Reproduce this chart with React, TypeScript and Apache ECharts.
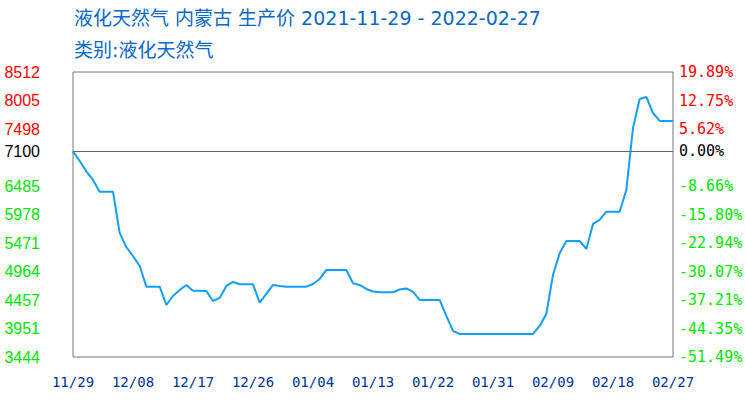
import React, { useEffect, useRef } from "react";
import * as echarts from "echarts";

const TITLE = "液化天然气 内蒙古 生产价 2021-11-29 - 2022-02-27";
const SUBTITLE = "类别:液化天然气";

// Reference price for the percentage axis
const BASE = 7100;

const dates = [
  "11/29", "11/30",
  "12/01", "12/02", "12/03", "12/04", "12/05", "12/06", "12/07", "12/08", "12/09", "12/10",
  "12/11", "12/12", "12/13", "12/14", "12/15", "12/16", "12/17", "12/18", "12/19", "12/20",
  "12/21", "12/22", "12/23", "12/24", "12/25", "12/26", "12/27", "12/28", "12/29", "12/30", "12/31",
  "01/01", "01/02", "01/03", "01/04", "01/05", "01/06", "01/07", "01/08", "01/09", "01/10",
  "01/11", "01/12", "01/13", "01/14", "01/15", "01/16", "01/17", "01/18", "01/19", "01/20",
  "01/21", "01/22", "01/23", "01/24", "01/25", "01/26", "01/27", "01/28", "01/29", "01/30", "01/31",
  "02/01", "02/02", "02/03", "02/04", "02/05", "02/06", "02/07", "02/08", "02/09", "02/10",
  "02/11", "02/12", "02/13", "02/14", "02/15", "02/16", "02/17", "02/18", "02/19", "02/20",
  "02/21", "02/22", "02/23", "02/24", "02/25", "02/26", "02/27",
];

const prices = [
  7100, 6930, 6745, 6592, 6384, 6384, 6384, 5650, 5400, 5240,
  5063, 4695, 4695, 4695, 4369, 4529, 4636, 4725, 4624, 4624,
  4618, 4440, 4494, 4707, 4778, 4737, 4737, 4737, 4410, 4565,
  4725, 4707, 4695, 4695, 4695, 4695, 4743, 4832, 4992, 4992,
  4992, 4992, 4755, 4725, 4654, 4609, 4595, 4595, 4595, 4645,
  4663, 4601, 4458, 4458, 4458, 4458, 4174, 3907, 3854, 3854,
  3854, 3854, 3854, 3854, 3854, 3854, 3854, 3854, 3854, 3854,
  3996, 4209, 4903, 5290, 5507, 5507, 5507, 5365, 5810, 5881,
  6028, 6028, 6028, 6414, 7516, 8032, 8068, 7783, 7641, 7641,
  7641,
];

const tickValues = [3444, 3950.8, 4457.6, 4964.4, 5471.2, 5978, 6484.8, 7100, 7498.4, 8005.2, 8512];
const leftLabels = ["3444", "3951", "4457", "4964", "5471", "5978", "6485", "7100", "7498", "8005", "8512"];
const rightLabels = [
  "-51.49%", "-44.35%", "-37.21%", "-30.07%", "-22.94%", "-15.80%", "-8.66%",
  "0.00%", "5.62%", "12.75%", "19.89%",
];

const tickIndex = (v: number) => {
  let best = 0;
  for (let i = 1; i < tickValues.length; i++) {
    if (Math.abs(tickValues[i] - v) < Math.abs(tickValues[best] - v)) best = i;
  }
  return best;
};

const tickColor = (v: number) => {
  if (Math.abs(v - BASE) < 0.5) return "#000000";
  return v > BASE ? "#ff0000" : "#00e600";
};

export default function App() {
  const ref = useRef<HTMLDivElement>(null);

  useEffect(() => {
    document.body.style.margin = "0";
    if (!ref.current) return;
    const chart = echarts.init(ref.current, null, { renderer: "svg" });
    chart.setOption({
      animation: false,
      backgroundColor: "#ffffff",
      title: [
        {
          text: TITLE,
          left: 74,
          top: 8,
          padding: 0,
          textStyle: {
            color: "#0a68c8",
            fontSize: 19,
            fontWeight: "normal",
            fontFamily: "'DejaVu Sans', 'Noto Sans CJK SC'",
          },
        },
        {
          text: SUBTITLE,
          left: 74,
          top: 40,
          padding: 0,
          textStyle: {
            color: "#0a68c8",
            fontSize: 19,
            fontWeight: "normal",
            fontFamily: "'DejaVu Sans', 'Noto Sans CJK SC'",
          },
        },
      ],
      grid: {
        left: 73,
        right: 73,
        top: 72,
        bottom: 44,
        show: true,
        borderColor: "#777777",
        borderWidth: 1,
        backgroundColor: "transparent",
        outerBoundsMode: "none",
      },
      xAxis: {
        type: "category",
        data: dates,
        boundaryGap: false,
        axisLine: { show: false },
        axisTick: { show: false },
        splitLine: { show: false },
        axisLabel: {
          interval: 8,
          margin: 18,
          color: "#003399",
          fontSize: 14,
          fontFamily: "'DejaVu Sans Mono'",
        },
      },
      yAxis: [
        {
          type: "value",
          min: 3444,
          max: 8512,
          position: "left",
          axisLine: { show: false },
          axisTick: { show: false },
          splitLine: { show: false },
          axisLabel: {
            customValues: tickValues,
            margin: 33,
            fontSize: 16,
            fontFamily: "'Liberation Sans'",
            color: (v: number) => tickColor(v),
            formatter: (v: number) => leftLabels[tickIndex(v)],
          },
        },
        {
          type: "value",
          min: 3444,
          max: 8512,
          position: "right",
          axisLine: { show: false },
          axisTick: { show: false },
          splitLine: { show: false },
          axisLabel: {
            customValues: tickValues,
            margin: 6,
            fontSize: 15,
            fontFamily: "'DejaVu Sans Mono'",
            color: (v: number) => tickColor(v),
            formatter: (v: number) => rightLabels[tickIndex(v)],
          },
        },
      ],
      series: [
        {
          type: "line",
          data: prices,
          yAxisIndex: 0,
          symbol: "none",
          showSymbol: false,
          lineStyle: { color: "#139ff5", width: 2 },
          markLine: {
            silent: true,
            symbol: "none",
            label: { show: false },
            lineStyle: { color: "#666666", width: 1, type: "solid" },
            data: [{ yAxis: BASE }],
          },
        },
      ],
    });
    return () => chart.dispose();
  }, []);

  return <div ref={ref} style={{ width: 746, height: 401 }} />;
}
